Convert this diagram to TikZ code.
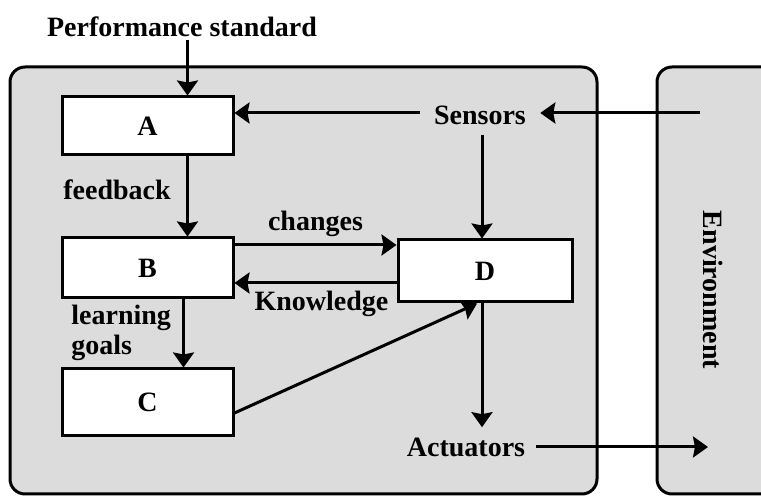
\documentclass[tikz,border=0pt]{standalone}
\usepackage{fontspec}
\setmainfont{Liberation Serif}
\usepackage{xcolor}
\definecolor{panel}{RGB}{220, 220, 220}
\usetikzlibrary{arrows.meta}

\tikzset{
    panelbox/.style={draw, fill=panel, line width=1.5pt, rounded corners=7.5pt},
    stage/.style={draw, fill=white, line width=1.5pt, minimum width=85.5pt, minimum height=29pt},
    flow/.style={-{Stealth[length=7.5pt, width=10.5pt, inset=1pt]}, line width=1.5pt},
    tag/.style={inner sep=1.5pt},
    port/.style={inner sep=5pt}
}

\begin{document}
\begin{tikzpicture}[x=0.5pt, y=-0.5pt, font=\fontsize{14}{15}\selectfont\bfseries]
        \useasboundingbox (0,0) rectangle (761,496);

        % Agent and environment panels
        \draw[panelbox] (10,67) rectangle (597,494);
        \draw[panelbox] (657,67) rectangle (800,494);

        % Inner blocks
        \node[stage] (A) at (147.5,126) {A};
        \node[stage, minimum height=30pt] (B) at (147.5,268) {B};
        \node[stage, minimum height=33.5pt] (C) at (147.5,402.5) {C};
        \node[stage, minimum width=87pt, minimum height=31pt] (D) at (485,271) {D};

        % Texts
        \node[tag] (perf) at (182,27) {Performance standard};
        \node[port, inner xsep=7pt] (sens) at (480,115) {Sensors};
        \node[port] (act) at (466,447) {Actuators};
        \node[tag, rotate=-90] (env) at (713,290) {Environment};
        \node[tag] (fb) at (117,190) {feedback};
        \node[tag, align=left, anchor=west] (goals) at (68,333) {learning\\goals};
        \coordinate (envin) at (700,113);
        \coordinate (envout) at (708,447);

        % Connections
        \draw[flow] ([xshift=20pt]A.north |- perf.south) -- ([xshift=20pt]A.north);
        \draw[flow] (envin) -- (sens.east |- envin);
        \draw[flow] (sens.west |- envin) -- (A.east |- envin);
        \draw[flow] ([xshift=-1.5pt]D.north |- sens.south) -- ([xshift=-1.5pt]D.north);
        \draw[flow] ([xshift=20pt]A.south) -- ([xshift=20pt]B.north);
        \draw[flow] ([xshift=18pt]B.south) -- ([xshift=18pt]C.north);
        \draw[flow] ([yshift=11.5pt]B.east) -- ([yshift=11.5pt]B.east -| D.west)
            node[midway, above] {changes};
        \draw[flow] ([yshift=-7.5pt]B.east -| D.west) -- ([yshift=-7.5pt]B.east)
            node[midway, below, xshift=3pt] {Knowledge};
        \draw[flow] ([yshift=-5.25pt]C.east) -- ([xshift=-4pt]D.south);
        \draw[flow] ([xshift=-1.5pt]D.south) -- ([xshift=-1.5pt]D.south |- act.north);
        \draw[flow] (act.east) -- (envout);
    \end{tikzpicture}
\end{document}
